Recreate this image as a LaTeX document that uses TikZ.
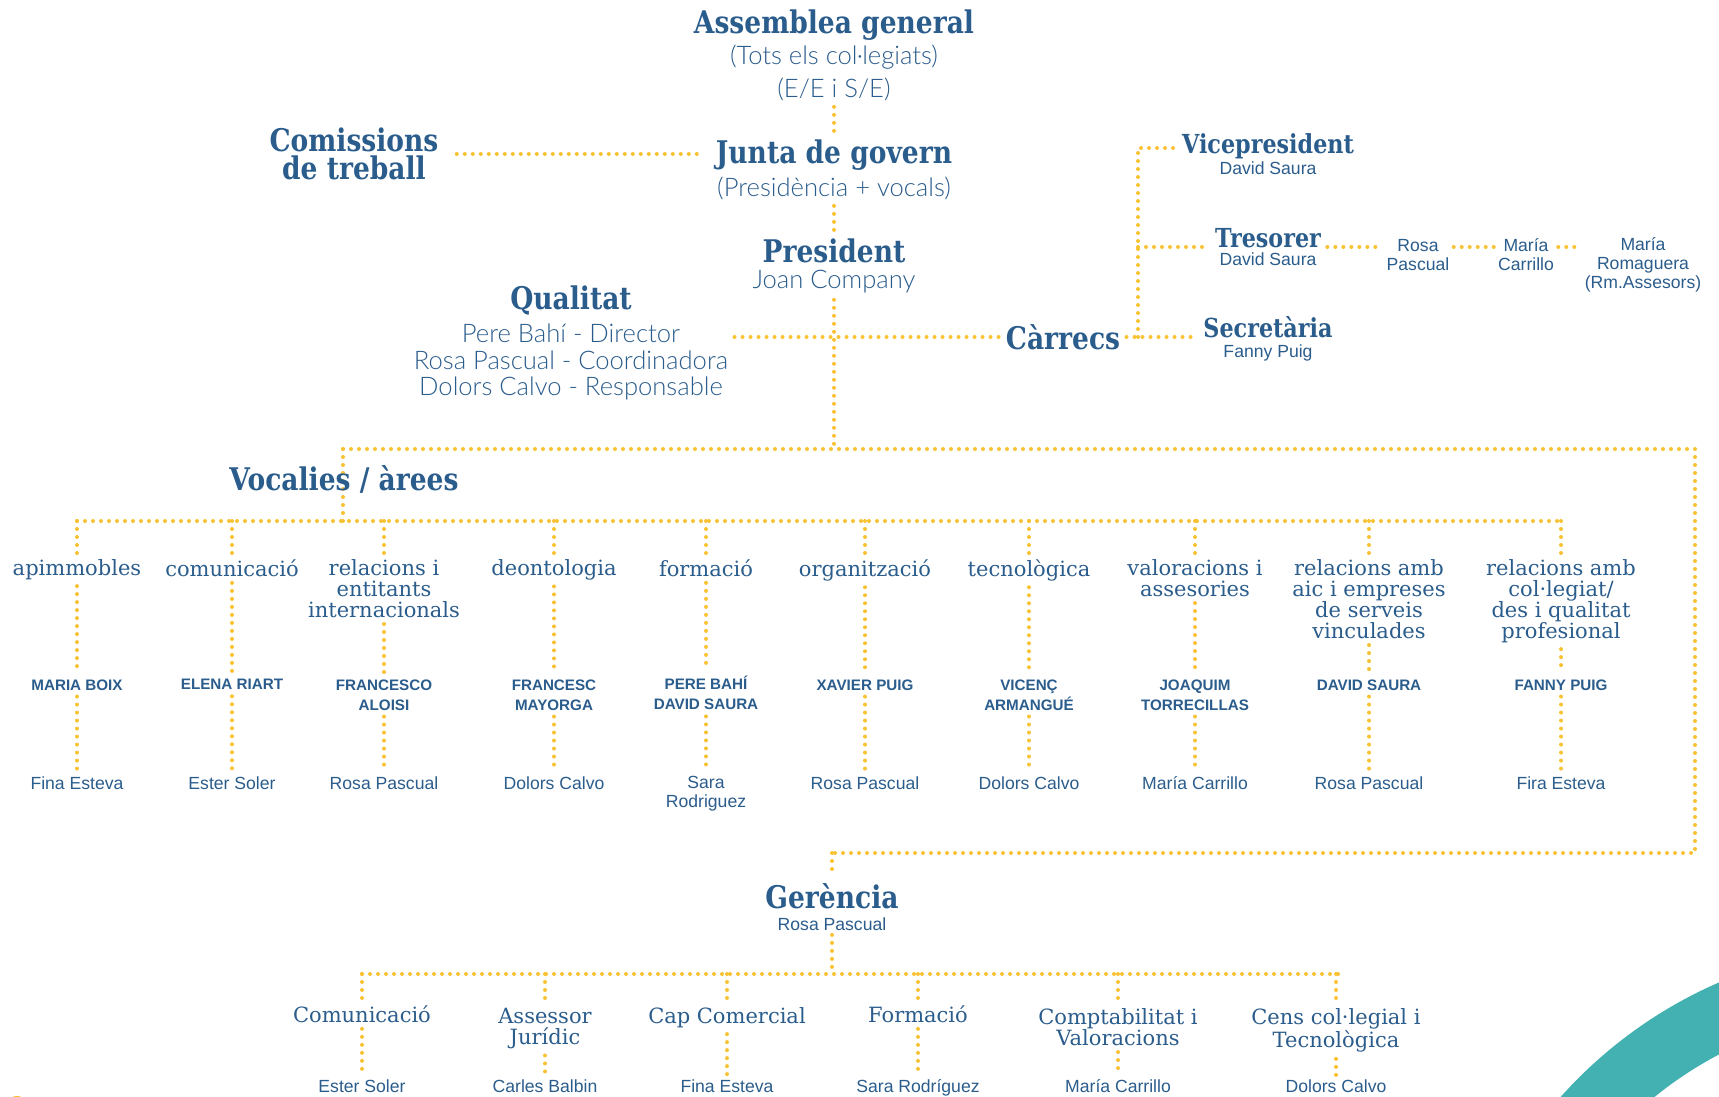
\documentclass[tikz,border=0pt]{standalone}
\usepackage{fontspec}
\usepackage{xcolor}
\setmainfont{DejaVu Serif}
\setsansfont{Liberation Sans}
\newfontfamily\lightf{Lato Light}
\newfontfamily\headf{DejaVu Serif}[FakeStretch=0.85]

\definecolor{txtblue}{RGB}{42,92,140}
\definecolor{dotyel}{RGB}{249,194,52}
\definecolor{ringteal}{RGB}{67,177,177}

\tikzset{
  dotl/.style={draw=dotyel, line width=2pt, line cap=round, dash pattern=on 0pt off 4pt},
  hd/.style={text=txtblue, font=\headf\bfseries\fontsize{15.6}{14}\selectfont, align=center, inner sep=3pt},
  hds/.style={hd, font=\headf\bfseries\fontsize{13.1}{12}\selectfont},
  area/.style={text=txtblue, font=\fontsize{10.5}{10.5}\selectfont, align=center, inner sep=3pt},
  capn/.style={text=txtblue, font=\sffamily\bfseries\fontsize{7.6}{10}\selectfont, align=center, inner sep=3pt},
  nm/.style={text=txtblue, font=\sffamily\fontsize{8.8}{9.5}\selectfont, align=center, inner sep=2pt},
  lt/.style={text=txtblue, font=\lightf\fontsize{12.8}{13.2}\selectfont, align=center, inner sep=3pt},
}

\begin{document}
\begin{tikzpicture}[x=0.5pt,y=0.5pt,yscale=-1,xscale=1]
\useasboundingbox (0,0) rectangle (1719,1097);

%Shape: Ring and corner mark
\begin{scope}
\clip (0,0) rectangle (1719,1097);
\fill[ringteal, even odd rule] (1900,1400) circle (455) (1900,1400) circle (390);
\fill[dotyel] (17,1100) ellipse (7 and 4);
\end{scope}

% Text Node
\node[hd] (asm) at (834,25) {Assemblea general};
\node[lt] (asm1) at (834,57) {(Tots els col·legiats)};
\node[lt] (asm2) at (834,89) {(E/E i S/E)};
\node[hd] (junta) at (834,155) {Junta de govern};
\node[lt] (junta1) at (834,188) {(Presidència + vocals)};
\node[hd] (com) at (354,154) {Comissions\\de treball};
\node[hd] (pres) at (834,251) {President};
\node[lt] (pres1) at (834,282) {Joan Company};
\node[hd] (qualt) at (571,300) {Qualitat};
\node[lt] (qual) at (571,362) {Pere Bahí - Director\\Rosa Pascual - Coordinadora\\Dolors Calvo - Responsable};
\node[hd] (carr) at (1063,337) {Càrrecs};
\node[hds] (vice) at (1268,146) {Vicepresident};
\node[nm] (vice1) at (1268,168) {David Saura};
\node[hds] (tres) at (1268,238) {Tresorer};
\node[nm] (tres1) at (1268,259) {David Saura};
\node[hds] (secr) at (1268,327) {Secretària};
\node[nm] (secr1) at (1268,353) {Fanny Puig};
\node[nm] (rosa) at (1418,255) {Rosa\\Pascual};
\node[nm] (mcar) at (1526,255) {María\\Carrillo};
\node[nm] (mrom) at (1643,265) {María\\Romaguera\\(Rm.Assesors)};

\coordinate (jc) at (1138,337);
\coordinate (jv) at (1138,148);
\coordinate (jt) at (1138,247);

%Straight Lines
\draw[dotl] (asm2.south) -- (junta.north);
\draw[dotl] (junta1.south) -- (pres.north);
\draw[dotl, shorten <=6pt, shorten >=6pt] (com.east) -- (com.east -| junta.west);
\draw[dotl] (qual.east |- carr.west) -- (carr.west);
\draw[dotl] (carr.east) -- (carr.east -| secr.west);
\draw[dotl] (jc) -- (jv) -- (jv -| vice.west);
\draw[dotl] (jt) -- (jt -| tres.west);
\draw[dotl] (jt -| tres.east) -- (jt -| rosa.west);
\draw[dotl] (jt -| rosa.east) -- (jt -| mcar.west);
\draw[dotl] (jt -| mcar.east) -- (jt -| mrom.west);

% Frame to Vocalies and Gerencia
\coordinate (vtop) at (834,449);
\coordinate (vl) at (343,449);
\coordinate (vr) at (1695,449);
\coordinate (vbr) at (1695,853);
\coordinate (gtop) at (832,853);
\coordinate (vb) at (343,521);
\coordinate (hl) at (77,521);
\coordinate (hr) at (1561,521);

\draw[dotl] (pres1.south) -- (vtop);
\draw[dotl] (vl) -- (vr) -- (vbr) -- (gtop);
\draw[dotl] (vl) -- (vb);
\draw[dotl] (hl) -- (hr);

\node[hd] (voc) at (344,479) {Vocalies / àrees};

% Vocalies columns
\node[area, anchor=north] (a1) at (77,553) {apimmobles};
\node[capn, anchor=north] (n1) at (77,673) {MARIA BOIX};
\node[nm, anchor=north] (b1) at (77,772) {Fina Esteva};
\draw[dotl] (a1.north |- hl) -- (a1.north) (a1.south) -- (n1.north) (n1.south) -- (b1.north);

\node[area, anchor=north] (a2) at (232,553) {comunicació};
\node[capn, anchor=north] (n2) at (232,673) {ELENA RIART};
\node[nm, anchor=north] (b2) at (232,772) {Ester Soler};
\draw[dotl] (a2.north |- hl) -- (a2.north) (a2.south) -- (n2.north) (n2.south) -- (b2.north);

\node[area, anchor=north] (a3) at (384,553) {relacions i\\entitants\\internacionals};
\node[capn, anchor=north] (n3) at (384,673) {FRANCESCO\\ALOISI};
\node[nm, anchor=north] (b3) at (384,772) {Rosa Pascual};
\draw[dotl] (a3.north |- hl) -- (a3.north) (a3.south) -- (n3.north) (n3.south) -- (b3.north);

\node[area, anchor=north] (a4) at (554,553) {deontologia};
\node[capn, anchor=north] (n4) at (554,673) {FRANCESC\\MAYORGA};
\node[nm, anchor=north] (b4) at (554,772) {Dolors Calvo};
\draw[dotl] (a4.north |- hl) -- (a4.north) (a4.south) -- (n4.north) (n4.south) -- (b4.north);

\node[area, anchor=north] (a5) at (706,553) {formació};
\node[capn, anchor=north] (n5) at (706,670) {PERE BAHÍ\\DAVID SAURA};
\node[nm, anchor=north] (b5) at (706,772) {Sara\\Rodriguez};
\draw[dotl] (a5.north |- hl) -- (a5.north) (a5.south) -- (n5.north) (n5.south) -- (b5.north);

\node[area, anchor=north] (a6) at (865,553) {organització};
\node[capn, anchor=north] (n6) at (865,673) {XAVIER PUIG};
\node[nm, anchor=north] (b6) at (865,772) {Rosa Pascual};
\draw[dotl] (a6.north |- hl) -- (a6.north) (a6.south) -- (n6.north) (n6.south) -- (b6.north);

\node[area, anchor=north] (a7) at (1029,553) {tecnològica};
\node[capn, anchor=north] (n7) at (1029,673) {VICENÇ\\ARMANGUÉ};
\node[nm, anchor=north] (b7) at (1029,772) {Dolors Calvo};
\draw[dotl] (a7.north |- hl) -- (a7.north) (a7.south) -- (n7.north) (n7.south) -- (b7.north);

\node[area, anchor=north] (a8) at (1195,553) {valoracions i\\assesories};
\node[capn, anchor=north] (n8) at (1195,673) {JOAQUIM\\TORRECILLAS};
\node[nm, anchor=north] (b8) at (1195,772) {María Carrillo};
\draw[dotl] (a8.north |- hl) -- (a8.north) (a8.south) -- (n8.north) (n8.south) -- (b8.north);

\node[area, anchor=north] (a9) at (1369,553) {relacions amb\\aic i empreses\\de serveis\\vinculades};
\node[capn, anchor=north] (n9) at (1369,673) {DAVID SAURA};
\node[nm, anchor=north] (b9) at (1369,772) {Rosa Pascual};
\draw[dotl] (a9.north |- hl) -- (a9.north) (a9.south) -- (n9.north) (n9.south) -- (b9.north);

\node[area, anchor=north] (a10) at (1561,553) {relacions amb\\col·legiat/\\des i qualitat\\profesional};
\node[capn, anchor=north] (n10) at (1561,673) {FANNY PUIG};
\node[nm, anchor=north] (b10) at (1561,772) {Fira Esteva};
\draw[dotl] (a10.north |- hl) -- (a10.north) (a10.south) -- (n10.north) (n10.south) -- (b10.north);

% Gerencia
\node[hd] (ger) at (832,896) {Gerència};
\node[nm] (ger1) at (832,924) {Rosa Pascual};
\coordinate (gj) at (832,974);
\coordinate (gl) at (362,974);
\coordinate (gr) at (1339,974);
\draw[dotl] (gtop) -- (ger.north);
\draw[dotl] (ger1.south) -- (gj);
\draw[dotl] (gl) -- (gr);

\node[area, anchor=north] (g1) at (362,999) {Comunicació};
\node[nm, anchor=north] (p1) at (362,1075) {Ester Soler};
\draw[dotl] (g1.north |- gl) -- (g1.north) (g1.south) -- (p1.north);

\node[area, anchor=north] (g2) at (545,1002) {Assessor\\Jurídic};
\node[nm, anchor=north] (p2) at (545,1075) {Carles Balbin};
\draw[dotl] (g2.north |- gl) -- (g2.north) (g2.south) -- (p2.north);

\node[area, anchor=north] (g3) at (727,1001) {Cap Comercial};
\node[nm, anchor=north] (p3) at (727,1075) {Fina Esteva};
\draw[dotl] (g3.north |- gl) -- (g3.north) (g3.south) -- (p3.north);

\node[area, anchor=north] (g4) at (918,999) {Formació};
\node[nm, anchor=north] (p4) at (918,1075) {Sara Rodríguez};
\draw[dotl] (g4.north |- gl) -- (g4.north) (g4.south) -- (p4.north);

\node[area, anchor=north] (g5) at (1118,1002) {Comptabilitat i\\Valoracions};
\node[nm, anchor=north] (p5) at (1118,1075) {María Carrillo};
\draw[dotl] (g5.north |- gl) -- (g5.north) (g5.south) -- (p5.north);

\node[area, anchor=north] (g6) at (1336,1002) {Cens col·legial i\\Tecnològica};
\node[nm, anchor=north] (p6) at (1336,1075) {Dolors Calvo};
\draw[dotl] (g6.north |- gl) -- (g6.north) (g6.south) -- (p6.north);

\end{tikzpicture}
\end{document}
